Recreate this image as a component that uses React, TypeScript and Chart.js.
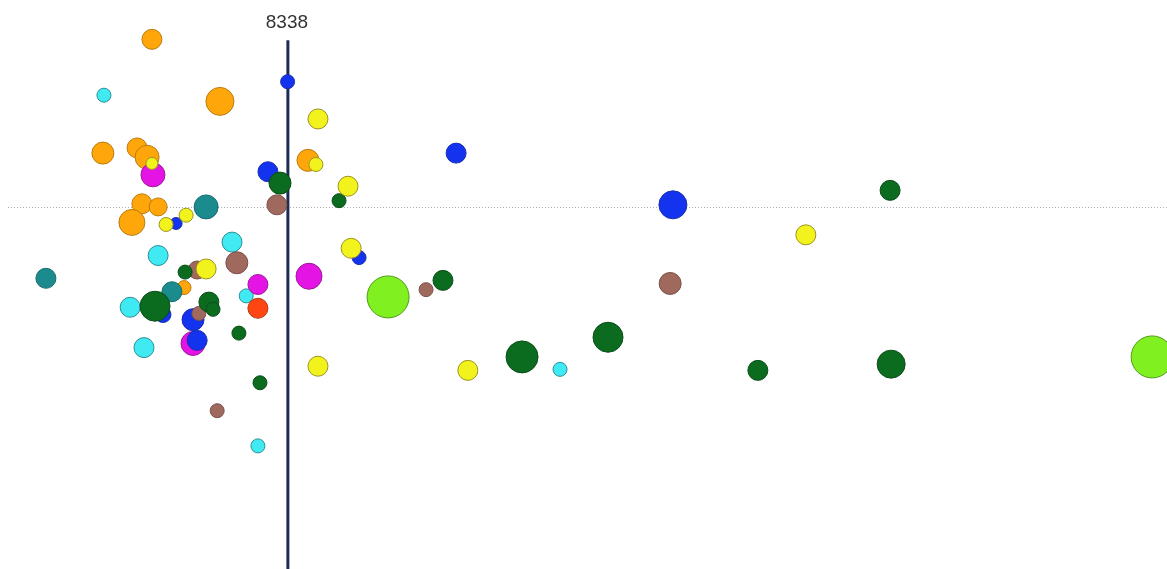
import React, { useEffect, useRef } from "react";
import { Chart, registerables } from "chart.js";

Chart.register(...registerables);

// x value, y value, bubble size
const orangePts: [number, number, number][] = [
  [4400, 16.2, 10], [6370, 10.2, 14], [2980, 5.2, 11], [3970, 5.7, 10], [4260, 4.8, 12],
  [8920, 4.5, 11], [4110, 0.3, 10], [4580, 0.0, 9], [3820, -1.5, 13], [5330, -7.8, 7],
];
const cyanPts: [number, number, number][] = [
  [3010, 10.8, 7], [6720, -3.4, 10], [4580, -4.7, 10], [7130, -8.6, 7], [3770, -9.7, 10],
  [4170, -13.6, 10], [16220, -15.7, 7], [7470, -23.1, 7],
];
const tealPts: [number, number, number][] = [
  [5970, 0.0, 12], [1330, -6.9, 10], [4980, -8.2, 10],
];
const magentaPts: [number, number, number][] = [
  [4430, 3.1, 12], [8950, -6.7, 13], [7470, -7.5, 10], [5590, -13.2, 12],
];
const bluePts: [number, number, number][] = [
  [8330, 12.1, 7], [7760, 3.4, 10], [5100, -1.6, 6], [10400, -4.9, 7], [13210, 5.2, 10],
  [19490, 0.2, 14], [4720, -10.4, 8], [5590, -10.9, 11], [5710, -12.9, 10],
];
const brownPts: [number, number, number][] = [
  [8020, 0.2, 10], [6860, -5.4, 11], [5710, -6.1, 9], [19410, -7.4, 11], [12340, -8.0, 7],
  [5760, -10.3, 7], [6290, -19.7, 7],
];
const greenPts: [number, number, number][] = [
  [8110, 2.3, 11], [9820, 0.6, 7], [25780, 1.6, 10], [12830, -7.1, 10], [5360, -6.3, 7],
  [4490, -9.6, 15], [6050, -9.2, 10], [6170, -9.9, 7], [6920, -12.2, 7], [7530, -17.0, 7],
  [15120, -14.5, 16], [17610, -12.6, 15], [21950, -15.8, 10], [25810, -15.2, 14],
];
const yellowPts: [number, number, number][] = [
  [9210, 8.5, 10], [4400, 4.2, 6], [9150, 4.1, 7], [10080, 2.0, 10], [4810, -1.7, 7],
  [5390, -0.8, 7], [10170, -4.0, 10], [23340, -2.7, 10], [5970, -6.0, 10], [9210, -15.4, 10],
  [13550, -15.8, 10],
];
const redPts: [number, number, number][] = [[7470, -9.8, 10]];
const limePts: [number, number, number][] = [[11240, -8.7, 21], [33370, -14.5, 21]];

const xRange = [0, 33800];
const yRange = [-35, 20];
const refX = 8338;
const refTopY = 16.1;
const refLabel = "8338";
const hLineY = 0;

// listed bottom layer first
const series = [
  { name: "orange", pts: orangePts, fill: "#FFA70A", border: "#B97A10" },
  { name: "cyan", pts: cyanPts, fill: "#40EAF2", border: "#2A8E96" },
  { name: "teal", pts: tealPts, fill: "#1B8B8E", border: "#166C70" },
  { name: "magenta", pts: magentaPts, fill: "#E414E4", border: "#9A1A9A" },
  { name: "blue", pts: bluePts, fill: "#1333EE", border: "#1A2FB0" },
  { name: "brown", pts: brownPts, fill: "#A0695E", border: "#7A5048" },
  { name: "green", pts: greenPts, fill: "#0B6B1E", border: "#0A4E18" },
  { name: "yellow", pts: yellowPts, fill: "#F2F21C", border: "#9C9420" },
  { name: "red", pts: redPts, fill: "#FF4612", border: "#B03A10" },
  { name: "lime", pts: limePts, fill: "#80F020", border: "#4E9A18" },
];

const refPlugin = {
  id: "refLines",
  beforeDatasetsDraw(chart: any) {
    const { ctx, chartArea, scales } = chart;
    const xs = scales.x;
    const ys = scales.y;
    ctx.save();
    const hy = Math.round(ys.getPixelForValue(hLineY)) + 0.5;
    ctx.strokeStyle = "#B0B0B0";
    ctx.lineWidth = 1;
    ctx.setLineDash([1, 2]);
    ctx.beginPath();
    ctx.moveTo(chartArea.left + 8, hy);
    ctx.lineTo(chartArea.right, hy);
    ctx.stroke();
    const vx = xs.getPixelForValue(refX);
    const top = ys.getPixelForValue(refTopY);
    ctx.setLineDash([]);
    ctx.strokeStyle = "#1C2C58";
    ctx.lineWidth = 3;
    ctx.beginPath();
    ctx.moveTo(vx, top);
    ctx.lineTo(vx, chartArea.bottom);
    ctx.stroke();
    ctx.fillStyle = "#333333";
    ctx.font = "19px 'Liberation Sans', Arial, sans-serif";
    ctx.textAlign = "center";
    ctx.textBaseline = "bottom";
    ctx.fillText(refLabel, vx - 1, top - 8);
    ctx.restore();
  },
};

export default function App() {
  const canvasRef = useRef<HTMLCanvasElement | null>(null);
  useEffect(() => {
    if (!canvasRef.current) return;
    const n = series.length;
    const chart = new Chart(canvasRef.current, {
      type: "bubble",
      data: {
        datasets: series.map((s, i) => ({
          label: s.name,
          data: s.pts.map((p) => ({ x: p[0], y: p[1], r: p[2] })),
          backgroundColor: s.fill,
          borderColor: s.border,
          borderWidth: 1,
          hoverRadius: 0,
          order: n - i,
          clip: false as any,
        })),
      },
      options: {
        animation: false,
        responsive: true,
        maintainAspectRatio: false,
        layout: { padding: 0, autoPadding: false },
        plugins: { legend: { display: false }, tooltip: { enabled: false } },
        scales: {
          x: { type: "linear", display: false, min: xRange[0], max: xRange[1] },
          y: { type: "linear", display: false, min: yRange[0], max: yRange[1] },
        },
      },
      plugins: [refPlugin],
    });
    return () => chart.destroy();
  }, []);
  return (
    <div style={{ position: "fixed", left: 0, top: 0, width: 1167, height: 569, background: "#fff" }}>
      <canvas ref={canvasRef} />
    </div>
  );
}
